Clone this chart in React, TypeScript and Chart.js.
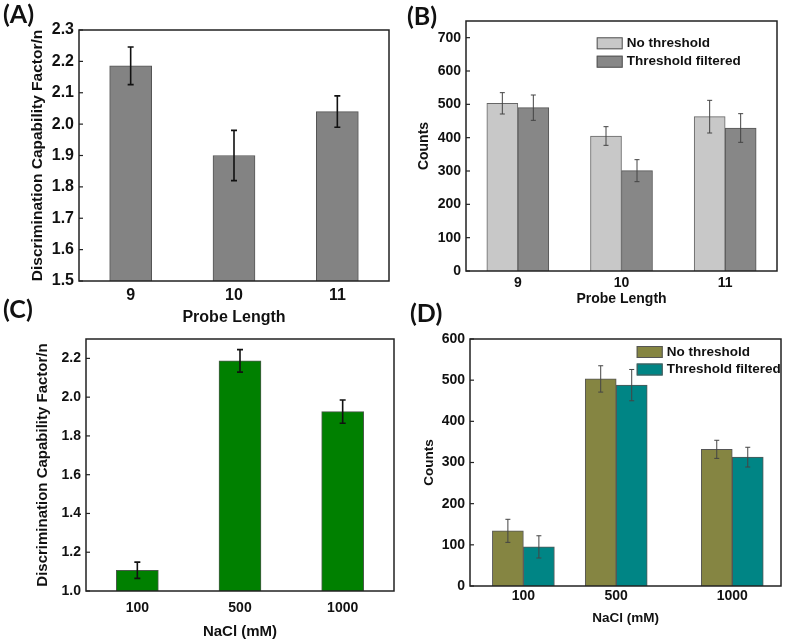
import React, { useEffect, useRef } from "react";
import { Chart, registerables } from "chart.js";

Chart.register(...registerables);

// ---------------- DATA ----------------
const PROBE_LENGTHS = ["9", "10", "11"];
const A_FACTOR = [2.186, 1.9, 2.04];
const A_FACTOR_ERR = [0.06, 0.08, 0.05];
const A_Y_TICKS = [1.5, 1.6, 1.7, 1.8, 1.9, 2.0, 2.1, 2.2, 2.3];

const SERIES_NAMES = ["No threshold", "Threshold filtered"];
const B_NO_THRESHOLD = [503, 405, 463];
const B_NO_THRESHOLD_ERR = [32, 28, 49];
const B_FILTERED = [490, 301, 429];
const B_FILTERED_ERR = [38, 33, 43];
const B_Y_TICKS = [0, 100, 200, 300, 400, 500, 600, 700];

const NACL_LABELS = ["100", "500", "1000"];
const C_FACTOR = [1.107, 2.187, 1.925];
const C_FACTOR_ERR = [0.042, 0.058, 0.06];
const C_Y_TICKS = [1.0, 1.2, 1.4, 1.6, 1.8, 2.0, 2.2];

const NACL_VALUES = [100, 500, 1000];
const D_NO_THRESHOLD = [134, 503, 332];
const D_NO_THRESHOLD_ERR = [28, 32, 22];
const D_FILTERED = [95, 488, 313];
const D_FILTERED_ERR = [27, 38, 24];
const D_Y_TICKS = [0, 100, 200, 300, 400, 500, 600];
const D_X_TICKS = [100, 500, 1000];

// ---------------- LAYOUT HELPERS ----------------
const W = 787;
const H = 642;
const FONT = "'Liberation Sans', Arial, Helvetica, sans-serif";
const TEXT = "#111111";

type Spec = {
  plot: { left: number; top: number; right: number; bottom: number };
  yTitleX: number;
  xTitleY: number;
  yTitle: string;
  xTitle: string;
  yTitleSize: number;
  xTitleSize: number;
  tickSize: number;
  xTickPad: number;
  yTicks: number[];
  yMin: number;
  yMax: number;
  yFmt: (v: number) => string;
  datasets: any[];
  labels?: string[];
  xLinear?: { min: number; max: number; ticks: number[] };
  barThickness: number;
  errColor: string;
  errWidth: number;
  capHalf: number;
  legend?: { dx: number; dy: number; gap: number; size: number };
};

function makePlugins(s: Spec) {
  const decor = {
    id: "decor",
    afterDatasetsDraw(chart: any) {
      const { ctx, chartArea: a } = chart;
      const ys = chart.scales.y;
      ctx.save();
      // frame
      ctx.strokeStyle = "#222222";
      ctx.lineWidth = 1.5;
      ctx.strokeRect(a.left, a.top, a.right - a.left, a.bottom - a.top);
      // inward y ticks
      ctx.lineWidth = 1.2;
      ys.ticks.forEach((t: any) => {
        const py = ys.getPixelForValue(t.value);
        ctx.beginPath();
        ctx.moveTo(a.left, py);
        ctx.lineTo(a.left + 4, py);
        ctx.stroke();
      });
      // error bars
      ctx.strokeStyle = s.errColor;
      ctx.lineWidth = s.errWidth;
      chart.data.datasets.forEach((ds: any, i: number) => {
        const errs: number[] | undefined = ds.errors;
        if (!errs) return;
        const meta = chart.getDatasetMeta(i);
        meta.data.forEach((bar: any, j: number) => {
          const v = meta.controller.getParsed(j).y;
          const top = ys.getPixelForValue(v + errs[j]);
          const bot = ys.getPixelForValue(v - errs[j]);
          const x = bar.x;
          ctx.beginPath();
          ctx.moveTo(x, top);
          ctx.lineTo(x, bot);
          ctx.moveTo(x - s.capHalf, top);
          ctx.lineTo(x + s.capHalf, top);
          ctx.moveTo(x - s.capHalf, bot);
          ctx.lineTo(x + s.capHalf, bot);
          ctx.stroke();
        });
      });
      ctx.restore();
    },
  };
  const boxLegend = {
    id: "boxLegend",
    afterDraw(chart: any) {
      if (!s.legend) return;
      const L = s.legend;
      const { ctx, chartArea: a } = chart;
      ctx.save();
      chart.data.datasets.forEach((ds: any, i: number) => {
        const bx = a.left + L.dx;
        const by = a.top + L.dy + i * L.gap;
        ctx.fillStyle = ds.backgroundColor;
        ctx.fillRect(bx, by, 26, 12);
        ctx.strokeStyle = "#555555";
        ctx.lineWidth = 1;
        ctx.strokeRect(bx + 0.5, by + 0.5, 25, 11);
        ctx.fillStyle = TEXT;
        ctx.font = `bold ${L.size}px ${FONT}`;
        ctx.textBaseline = "middle";
        ctx.textAlign = "left";
        ctx.fillText(ds.label, bx + 30, by + 6);
      });
      ctx.restore();
    },
  };
  return [decor, boxLegend];
}

function buildConfig(s: Spec): any {
  const padLeft = s.yTitleX - s.yTitleSize * 0.6;
  const padBottom = H - s.xTitleY - s.xTitleSize * 0.6;
  const yWidth = s.plot.left - padLeft;
  const xHeight = H - padBottom - s.plot.bottom;

  const xScale: any = s.xLinear
    ? {
        type: "linear",
        min: s.xLinear.min,
        max: s.xLinear.max,
        offset: false,
        afterBuildTicks: (sc: any) => {
          sc.ticks = s.xLinear!.ticks.map((v) => ({ value: v }));
        },
      }
    : { type: "category" };

  Object.assign(xScale, {
    grid: { display: false, drawTicks: false },
    border: { display: false },
    ticks: {
      autoSkip: false,
      maxRotation: 0,
      padding: s.xTickPad,
      color: TEXT,
      font: { family: FONT, size: s.tickSize, weight: "bold" },
      callback: s.xLinear
        ? (v: any) => String(v)
        : function (this: any, v: any) {
            return this.getLabelForValue(v);
          },
    },
    title: {
      display: true,
      text: s.xTitle,
      color: TEXT,
      padding: 0,
      font: { family: FONT, size: s.xTitleSize, weight: "bold" },
    },
    afterFit: (sc: any) => {
      sc.height = xHeight;
    },
  });

  return {
    type: "bar",
    data: { labels: s.labels, datasets: s.datasets },
    options: {
      responsive: false,
      animation: false,
      devicePixelRatio: 1,
      layout: {
        padding: {
          left: padLeft,
          top: s.plot.top,
          right: W - s.plot.right,
          bottom: padBottom,
        },
      },
      plugins: { legend: { display: false }, tooltip: { enabled: false } },
      datasets: { bar: { barThickness: s.barThickness, grouped: true } },
      scales: {
        x: xScale,
        y: {
          type: "linear",
          min: s.yMin,
          max: s.yMax,
          grid: { display: false, drawTicks: false },
          border: { display: false },
          afterBuildTicks: (sc: any) => {
            sc.ticks = s.yTicks.map((v) => ({ value: v }));
          },
          ticks: {
            padding: 5,
            color: TEXT,
            font: { family: FONT, size: s.tickSize, weight: "bold" },
            callback: (v: any) => s.yFmt(Number(v)),
          },
          title: {
            display: true,
            text: s.yTitle,
            color: TEXT,
            padding: 0,
            font: { family: FONT, size: s.yTitleSize, weight: "bold" },
          },
          afterFit: (sc: any) => {
            sc.width = yWidth;
          },
        },
      },
    },
    plugins: makePlugins(s),
  };
}

const fmt1 = (v: number) => v.toFixed(1);
const fmt0 = (v: number) => String(Math.round(v));

const SPECS: Spec[] = [
  {
    plot: { left: 79, top: 30, right: 389, bottom: 281 },
    yTitleX: 37.5,
    xTitleY: 318,
    yTitle: "Discrimination Capability Factor/n",
    xTitle: "Probe Length",
    yTitleSize: 15.5,
    xTitleSize: 16,
    tickSize: 16,
    xTickPad: 5,
    yTicks: A_Y_TICKS,
    yMin: 1.5,
    yMax: 2.3,
    yFmt: fmt1,
    labels: PROBE_LENGTHS,
    barThickness: 42,
    errColor: "#111111",
    errWidth: 1.6,
    capHalf: 3,
    datasets: [
      {
        label: "Factor",
        data: A_FACTOR,
        errors: A_FACTOR_ERR,
        backgroundColor: "#838383",
        borderColor: "#555555",
        borderWidth: 1,
      },
    ],
  },
  {
    plot: { left: 466, top: 21, right: 777, bottom: 271 },
    yTitleX: 424,
    xTitleY: 299,
    yTitle: "Counts",
    xTitle: "Probe Length",
    yTitleSize: 14,
    xTitleSize: 14,
    tickSize: 14,
    xTickPad: 3.5,
    yTicks: B_Y_TICKS,
    yMin: 0,
    yMax: 750,
    yFmt: fmt0,
    labels: PROBE_LENGTHS,
    barThickness: 31,
    errColor: "#444444",
    errWidth: 1,
    capHalf: 2.5,
    legend: { dx: 130.7, dy: 16.3, gap: 18.4, size: 13.5 },
    datasets: [
      {
        label: SERIES_NAMES[0],
        data: B_NO_THRESHOLD,
        errors: B_NO_THRESHOLD_ERR,
        backgroundColor: "#c8c8c8",
        borderColor: "#666666",
        borderWidth: 1,
      },
      {
        label: SERIES_NAMES[1],
        data: B_FILTERED,
        errors: B_FILTERED_ERR,
        backgroundColor: "#878787",
        borderColor: "#555555",
        borderWidth: 1,
      },
    ],
  },
  {
    plot: { left: 86, top: 339, right: 394, bottom: 591 },
    yTitleX: 43.3,
    xTitleY: 632,
    yTitle: "Discrimination Capability Factor/n",
    xTitle: "NaCl (mM)",
    yTitleSize: 15,
    xTitleSize: 15,
    tickSize: 14,
    xTickPad: 8.5,
    yTicks: C_Y_TICKS,
    yMin: 1.0,
    yMax: 2.3,
    yFmt: fmt1,
    labels: NACL_LABELS,
    barThickness: 42,
    errColor: "#111111",
    errWidth: 1.6,
    capHalf: 3,
    datasets: [
      {
        label: "Factor",
        data: C_FACTOR,
        errors: C_FACTOR_ERR,
        backgroundColor: "#008000",
        borderColor: "#4a5a4a",
        borderWidth: 1,
      },
    ],
  },
  {
    plot: { left: 470, top: 339, right: 781, bottom: 586 },
    yTitleX: 429,
    xTitleY: 618,
    yTitle: "Counts",
    xTitle: "NaCl (mM)",
    yTitleSize: 13.5,
    xTitleSize: 13.5,
    tickSize: 14,
    xTickPad: 1.6,
    yTicks: D_Y_TICKS,
    yMin: 0,
    yMax: 600,
    yFmt: fmt0,
    xLinear: { min: -130, max: 1210, ticks: D_X_TICKS },
    barThickness: 31,
    errColor: "#444444",
    errWidth: 1,
    capHalf: 2.5,
    legend: { dx: 166.7, dy: 7, gap: 17.5, size: 13.5 },
    datasets: [
      {
        label: SERIES_NAMES[0],
        data: NACL_VALUES.map((x, i) => ({ x, y: D_NO_THRESHOLD[i] })),
        errors: D_NO_THRESHOLD_ERR,
        backgroundColor: "#858542",
        borderColor: "#555555",
        borderWidth: 1,
      },
      {
        label: SERIES_NAMES[1],
        data: NACL_VALUES.map((x, i) => ({ x, y: D_FILTERED[i] })),
        errors: D_FILTERED_ERR,
        backgroundColor: "#008585",
        borderColor: "#555555",
        borderWidth: 1,
      },
    ],
  },
];

const PANEL_LABELS = [
  { text: "(A)", left: 3, top: 1 },
  { text: "(B)", left: 407, top: 3 },
  { text: "(C)", left: 3, top: 296 },
  { text: "(D)", left: 410, top: 300 },
];

function Panel({ spec }: { spec: Spec }) {
  const ref = useRef<HTMLCanvasElement>(null);
  useEffect(() => {
    const chart = new Chart(ref.current as HTMLCanvasElement, buildConfig(spec));
    return () => chart.destroy();
  }, [spec]);
  return (
    <canvas
      ref={ref}
      width={W}
      height={H}
      style={{ position: "absolute", left: 0, top: 0, width: W, height: H }}
    />
  );
}

export default function App() {
  return (
    <div
      style={{
        position: "absolute",
        left: 0,
        top: 0,
        width: W,
        height: H,
        background: "#ffffff",
        overflow: "hidden",
      }}
    >
      {SPECS.map((s, i) => (
        <Panel key={i} spec={s} />
      ))}
      {PANEL_LABELS.map((p) => (
        <div
          key={p.text}
          style={{
            position: "absolute",
            left: p.left,
            top: p.top,
            fontFamily: "Lato, 'Open Sans', sans-serif",
            fontWeight: 700,
            fontSize: 25,
            lineHeight: "25px",
            color: "#111",
          }}
        >
          {p.text}
        </div>
      ))}
    </div>
  );
}
